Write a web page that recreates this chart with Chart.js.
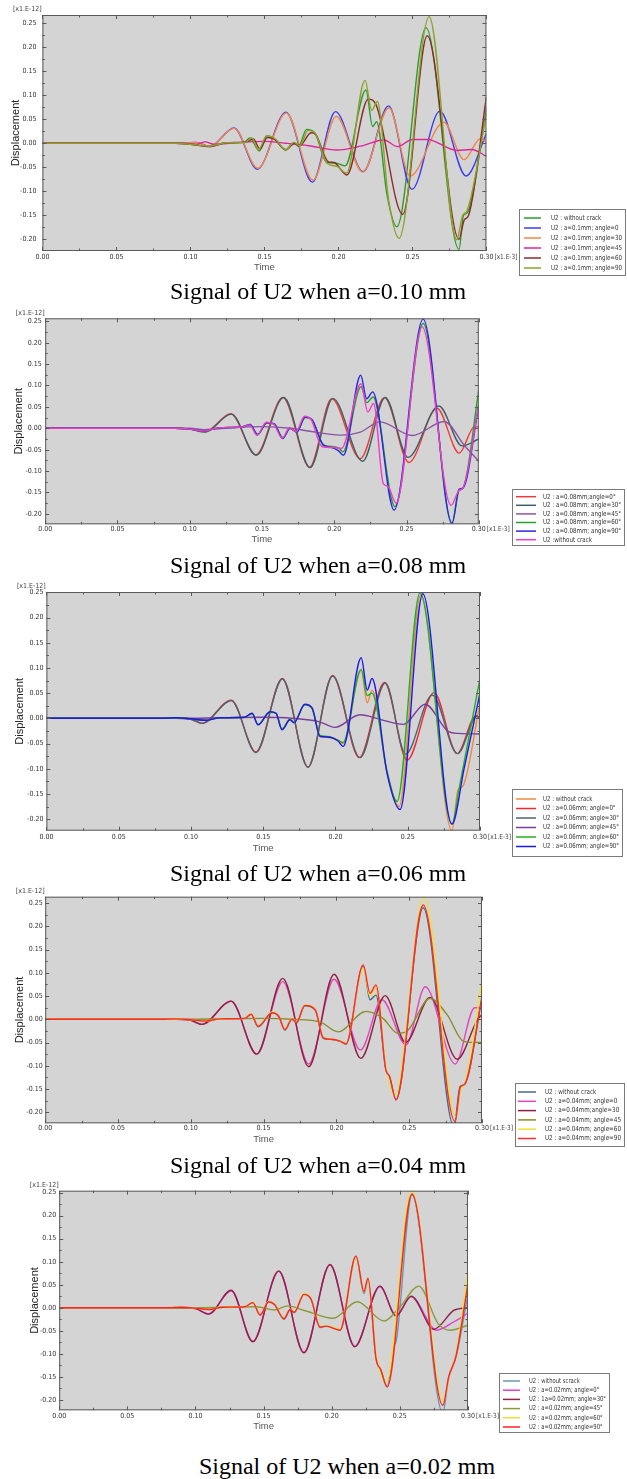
<!DOCTYPE html>
<html>
<head>
<meta charset="utf-8">
<script src="https://cdn.jsdelivr.net/npm/chart.js@4.4.0/dist/chart.umd.min.js"></script>
<style>
  html, body { margin: 0; padding: 0; background: #fff; }
  body { position: relative; width: 627px; height: 1479px; overflow: hidden; }
  canvas { position: absolute; left: 0; }
  .cap { position: absolute; font: 24px 'Liberation Serif', 'Times New Roman', serif; line-height: 24px;
         white-space: nowrap; color: #000; transform: translateX(-50%); }
</style>
</head>
<body>
<canvas id="c1"></canvas>
<canvas id="c2"></canvas>
<canvas id="c3"></canvas>
<canvas id="c4"></canvas>
<canvas id="c5"></canvas>
<script>
// axis ticks
const timeTicks = [0, 0.05, 0.10, 0.15, 0.20, 0.25, 0.30];
const dispTicks = [-0.20, -0.15, -0.10, -0.05, 0, 0.05, 0.10, 0.15, 0.20, 0.25];
const minorTimeTicks = [0, 0.025, 0.05, 0.075, 0.10, 0.125, 0.15, 0.175, 0.20, 0.225, 0.25, 0.275, 0.30];
const minorDispTicks = [-0.20, -0.175, -0.15, -0.125, -0.10, -0.075, -0.05, -0.025, 0, 0.025, 0.05, 0.075, 0.10, 0.125, 0.15, 0.175, 0.20, 0.225, 0.25];

const captions = ['Signal of U2 when a=0.10 mm', 'Signal of U2 when a=0.08 mm', 'Signal of U2 when a=0.06 mm',
                  'Signal of U2 when a=0.04 mm', 'Signal of U2 when a=0.02 mm'];

// ---- a = 0.10 mm : [time x1e-3, U2 x1e-12]
const p1NoCrack = [[0,0],[0.09,0],[0.1,-0.002],[0.113,-0.006],[0.124,0.001],[0.136,0.002],[0.1403,0.011],[0.1465,-0.016],[0.152,0.016],[0.156,0.011],[0.1645,-0.013],[0.1696,0.001],[0.173,-0.006],[0.1786,0.029],[0.1842,0.021],[0.1921,-0.04],[0.198,-0.041],[0.2045,-0.047],[0.2186,0.111],[0.2231,0.035],[0.2258,0.045],[0.233,-0.11],[0.2395,-0.174],[0.2592,0.241],[0.2815,-0.221],[0.2845,-0.15],[0.287,-0.145],[0.30,0.07]];
const p1Ang0 = [[0,0],[0.095,0],[0.104,0.002],[0.113,-0.007],[0.1295,0.032],[0.1452,-0.054],[0.1646,0.065],[0.1824,-0.081],[0.198,0.066],[0.2168,-0.059],[0.2339,0.078],[0.2497,-0.096],[0.2686,0.067],[0.2862,-0.068],[0.30,0.02]];
const p1Ang30 = [[0,0],[0.095,0],[0.104,0.002],[0.113,-0.007],[0.1295,0.031],[0.1455,-0.052],[0.1648,0.063],[0.1828,-0.077],[0.1985,0.056],[0.2165,-0.06],[0.2342,0.074],[0.2484,-0.068],[0.2713,0.044],[0.2849,-0.034],[0.296,0.01],[0.30,0.002]];
const p1Ang45 = [[0,0],[0.095,0],[0.104,-0.002],[0.11,0.003],[0.116,-0.002],[0.13,0.001],[0.15,0.004],[0.165,0],[0.18,-0.005],[0.199,-0.014],[0.215,-0.006],[0.2307,0.007],[0.24,-0.007],[0.25,0.008],[0.26,0.008],[0.28,-0.015],[0.29,-0.013],[0.30,-0.027]];
const p1Ang60 = [[0,0],[0.09,0],[0.1,-0.002],[0.113,-0.007],[0.124,0.001],[0.138,0.003],[0.1425,0.009],[0.147,-0.012],[0.152,0.012],[0.157,0.008],[0.1645,-0.014],[0.1705,0],[0.174,-0.005],[0.1815,0.022],[0.1845,0.019],[0.193,-0.038],[0.197,-0.04],[0.2057,-0.066],[0.2202,0.092],[0.2255,0.08],[0.2435,-0.148],[0.26,0.224],[0.2815,-0.2],[0.285,-0.16],[0.288,-0.15],[0.30,0.097]];
const p1Ang90 = [[0,0],[0.09,0],[0.1,-0.002],[0.113,-0.006],[0.124,0.001],[0.137,0.002],[0.1415,0.011],[0.146,-0.014],[0.1515,0.016],[0.157,0.01],[0.1645,-0.014],[0.17,0.002],[0.174,-0.005],[0.1795,0.027],[0.1845,0.02],[0.1925,-0.042],[0.199,-0.048],[0.2055,-0.062],[0.218,0.131],[0.2225,0.069],[0.2263,0.087],[0.234,-0.12],[0.241,-0.198],[0.2613,0.264],[0.28,-0.201],[0.284,-0.15],[0.287,-0.14],[0.30,0.06]];
const p1Labels = ['U2 : without crack', 'U2 : a=0.1mm; angle=0', 'U2 : a=0.1mm; angle=30', 'U2 : a=0.1mm; angle=45', 'U2 : a=0.1mm; angle=60', 'U2 : a=0.1mm; angle=90'];

// ---- a = 0.08 mm
const p2Ang0 = [[0,0],[0.09,0],[0.1,-0.002],[0.1105,-0.008],[0.1285,0.034],[0.1457,-0.062],[0.1645,0.072],[0.183,-0.091],[0.1982,0.069],[0.218,-0.071],[0.2348,0.072],[0.2516,-0.08],[0.271,0.047],[0.2865,-0.058],[0.297,0.004],[0.30,0.003]];
const p2Ang30 = [[0,0],[0.09,0],[0.1,-0.002],[0.1105,-0.009],[0.1288,0.033],[0.146,-0.063],[0.165,0.072],[0.1833,-0.092],[0.199,0.07],[0.2197,-0.077],[0.2352,0.072],[0.251,-0.068],[0.2724,0.052],[0.2884,-0.041],[0.30,-0.025]];
const p2Ang45 = [[0,0],[0.1,0],[0.11,-0.003],[0.13,0.002],[0.15,0.004],[0.17,0],[0.183,-0.007],[0.204,-0.016],[0.218,-0.009],[0.2317,0.015],[0.254,-0.017],[0.276,0.016],[0.29,-0.04],[0.30,-0.077]];
const p2Ang60 = [[0,0],[0.09,0],[0.1,-0.002],[0.11,-0.006],[0.12,0.001],[0.136,0.003],[0.1418,0.008],[0.147,-0.014],[0.1535,0.012],[0.1585,0.01],[0.1645,-0.022],[0.1695,0],[0.174,-0.008],[0.18,0.025],[0.1845,0.02],[0.1925,-0.038],[0.197,-0.042],[0.2035,-0.047],[0.206,-0.055],[0.2185,0.097],[0.2225,0.06],[0.2268,0.073],[0.242,-0.183],[0.2615,0.245],[0.2815,-0.222],[0.2864,-0.145],[0.289,-0.14],[0.30,0.089]];
const p2Ang90 = [[0,0],[0.09,0],[0.1,-0.002],[0.11,-0.006],[0.12,0.001],[0.136,0.003],[0.1418,0.009],[0.1469,-0.015],[0.1532,0.013],[0.1583,0.011],[0.1643,-0.024],[0.1693,0],[0.174,-0.009],[0.1798,0.026],[0.1844,0.021],[0.1925,-0.04],[0.1971,-0.044],[0.2028,-0.052],[0.2063,-0.063],[0.2183,0.124],[0.2224,0.069],[0.2266,0.085],[0.2414,-0.191],[0.2615,0.255],[0.2815,-0.222],[0.2864,-0.142],[0.289,-0.14],[0.30,0.054]];
const p2NoCrack = [[0,0],[0.09,0],[0.1,-0.002],[0.11,-0.006],[0.12,0.001],[0.136,0.003],[0.1415,0.008],[0.1465,-0.016],[0.153,0.014],[0.158,0.01],[0.164,-0.023],[0.169,0.001],[0.1735,-0.008],[0.1795,0.028],[0.184,0.02],[0.1915,-0.043],[0.2,-0.045],[0.205,-0.047],[0.2185,0.104],[0.2232,0.038],[0.2272,0.058],[0.234,-0.13],[0.237,-0.135],[0.2428,-0.175],[0.2608,0.237],[0.2808,-0.18],[0.2864,-0.145],[0.289,-0.14],[0.30,0.055]];
const p2Labels = ['U2 : a=0.08mm;angle=0°', 'U2 : a=0.08mm; angle=30°', 'U2 : a=0.08mm; angle=45°', 'U2 : a=0.08mm; angle=60°', 'U2 : a=0.08mm; angle=90°', 'U2 :without crack'];

// ---- a = 0.06 mm
const p3NoCrack = [[0,0],[0.08,0],[0.09,0.001],[0.1,-0.001],[0.11,-0.004],[0.12,0.001],[0.137,0.002],[0.1423,0.01],[0.1464,-0.013],[0.1547,0.013],[0.1589,0.01],[0.163,-0.022],[0.1685,-0.003],[0.1713,-0.008],[0.1788,0.027],[0.1838,0.02],[0.1893,-0.036],[0.1948,-0.038],[0.2018,-0.043],[0.2053,-0.05],[0.2178,0.095],[0.222,0.031],[0.2253,0.056],[0.2357,-0.109],[0.244,-0.175],[0.259,0.245],[0.2806,-0.223],[0.2848,-0.142],[0.288,-0.135],[0.30,0.03]];
const p3Ang0 = [[0,0],[0.09,0],[0.1,-0.002],[0.1077,-0.01],[0.1279,0.036],[0.145,-0.067],[0.1633,0.079],[0.181,-0.097],[0.198,0.085],[0.2165,-0.078],[0.234,0.071],[0.2496,-0.083],[0.2682,0.051],[0.2842,-0.07],[0.297,0.004],[0.30,0]];
const p3Ang30 = [[0,0],[0.09,0],[0.1,-0.002],[0.1077,-0.01],[0.1279,0.035],[0.145,-0.068],[0.1633,0.078],[0.181,-0.097],[0.198,0.084],[0.217,-0.078],[0.2345,0.07],[0.2485,-0.071],[0.267,0.046],[0.2845,-0.07],[0.298,0.005],[0.30,0]];
const p3Ang45 = [[0,0],[0.1,0],[0.12,0.001],[0.15,0.002],[0.17,0],[0.189,-0.007],[0.1996,-0.018],[0.217,0.007],[0.232,-0.003],[0.247,-0.012],[0.262,0.028],[0.278,-0.026],[0.285,-0.03],[0.30,-0.031]];
const p3Ang60 = [[0,0],[0.08,0],[0.09,0.001],[0.1,-0.001],[0.11,-0.004],[0.12,0.001],[0.137,0.002],[0.1423,0.009],[0.1464,-0.012],[0.1547,0.012],[0.1589,0.01],[0.163,-0.021],[0.1685,-0.002],[0.1713,-0.008],[0.1788,0.027],[0.1838,0.021],[0.1893,-0.034],[0.1948,-0.036],[0.2018,-0.044],[0.2053,-0.048],[0.2178,0.097],[0.222,0.045],[0.2253,0.05],[0.2357,-0.105],[0.2426,-0.165],[0.2585,0.249],[0.2806,-0.21],[0.2855,-0.14],[0.30,0.079]];
const p3Ang90 = [[0,0],[0.08,0],[0.09,0.001],[0.1,-0.001],[0.11,-0.004],[0.12,0.001],[0.137,0.002],[0.1423,0.01],[0.1464,-0.013],[0.1547,0.013],[0.1589,0.01],[0.163,-0.023],[0.1685,-0.003],[0.1713,-0.009],[0.1788,0.028],[0.1838,0.02],[0.1893,-0.036],[0.1948,-0.037],[0.2018,-0.045],[0.2053,-0.056],[0.2178,0.12],[0.222,0.056],[0.2253,0.079],[0.2357,-0.109],[0.2447,-0.181],[0.2604,0.247],[0.2806,-0.21],[0.289,-0.1],[0.30,0.05]];
const p3Labels = ['U2 : without crack', 'U2 : a=0.06mm; angle=0°', 'U2 : a=0.06mm; angle=30°', 'U2 : a=0.06mm; angle=45°', 'U2 : a=0.06mm; angle=60°', 'U2 : a=0.06mm; angle=90°'];

// ---- a = 0.04 mm
const p4NoCrack = [[0,0],[0.08,0],[0.09,0.001],[0.1,-0.001],[0.11,-0.004],[0.12,0.001],[0.137,0.002],[0.1415,0.011],[0.1462,-0.016],[0.1558,0.014],[0.1605,0.006],[0.1646,-0.023],[0.1695,0],[0.1725,-0.008],[0.1783,0.029],[0.1855,0.02],[0.191,-0.041],[0.196,-0.043],[0.2025,-0.047],[0.2066,-0.053],[0.2184,0.115],[0.2231,0.042],[0.2272,0.052],[0.234,-0.109],[0.2365,-0.123],[0.2409,-0.173],[0.2596,0.24],[0.2808,-0.231],[0.2849,-0.145],[0.288,-0.14],[0.30,0.045]];
const p4Ang0 = [[0,0],[0.09,0],[0.1,-0.002],[0.1077,-0.011],[0.1277,0.039],[0.1453,-0.075],[0.1632,0.081],[0.181,-0.096],[0.1984,0.086],[0.2165,-0.066],[0.2313,0.042],[0.2478,-0.055],[0.261,0.07],[0.2816,-0.096],[0.295,0.025],[0.30,0.025]];
const p4Ang30 = [[0,0],[0.09,0],[0.1,-0.002],[0.1077,-0.011],[0.1277,0.039],[0.1453,-0.075],[0.1632,0.088],[0.181,-0.102],[0.1984,0.097],[0.2168,-0.084],[0.2335,0.051],[0.2475,-0.05],[0.2643,0.047],[0.283,-0.086],[0.297,0],[0.30,0.01]];
const p4Ang45 = [[0,0],[0.1,0],[0.12,0.001],[0.15,0.002],[0.17,0],[0.189,-0.006],[0.2011,-0.027],[0.2203,0.017],[0.232,0.002],[0.2423,-0.03],[0.249,-0.024],[0.2643,0.045],[0.276,0.01],[0.2876,-0.048],[0.30,-0.05]];
const p4Ang60 = [[0,0],[0.08,0],[0.09,0.001],[0.1,-0.001],[0.11,-0.004],[0.12,0.001],[0.137,0.002],[0.1415,0.012],[0.1462,-0.014],[0.1558,0.016],[0.1605,0.007],[0.1646,-0.021],[0.1695,0.002],[0.1725,-0.006],[0.1783,0.031],[0.1855,0.021],[0.191,-0.038],[0.196,-0.042],[0.2025,-0.046],[0.2066,-0.052],[0.2184,0.11],[0.2231,0.05],[0.2272,0.07],[0.234,-0.1],[0.2402,-0.165],[0.2602,0.264],[0.282,-0.21],[0.2855,-0.15],[0.288,-0.14],[0.30,0.085]];
const p4Ang90 = [[0,0],[0.08,0],[0.09,0.001],[0.1,-0.001],[0.11,-0.004],[0.12,0.001],[0.137,0.002],[0.1415,0.011],[0.1462,-0.015],[0.1558,0.014],[0.1605,0.006],[0.1646,-0.022],[0.1695,0.001],[0.1725,-0.007],[0.1783,0.03],[0.1855,0.02],[0.191,-0.04],[0.196,-0.043],[0.2025,-0.047],[0.2066,-0.053],[0.2184,0.117],[0.2231,0.056],[0.2272,0.074],[0.234,-0.109],[0.2365,-0.123],[0.2409,-0.173],[0.2596,0.246],[0.2815,-0.22],[0.2852,-0.145],[0.288,-0.14],[0.30,0.049]];
const p4Labels = ['U2 : without crack', 'U2 : a=0.04mm; angle=0', 'U2 : a=0.04mm;angle=30', 'U2 : a=0.04mm; angle=45', 'U2 : a=0.04mm; angle=60', 'U2 : a=0.04mm; angle=90'];

// ---- a = 0.02 mm
const p5NoCrack = [[0,0],[0.08,0],[0.09,0.001],[0.1,-0.001],[0.11,-0.004],[0.12,0.001],[0.136,0.002],[0.1421,0.011],[0.1474,-0.016],[0.1538,0.013],[0.158,0.007],[0.165,-0.025],[0.1695,-0.005],[0.1725,-0.011],[0.1796,0.029],[0.1848,0.018],[0.1914,-0.043],[0.196,-0.04],[0.2061,-0.049],[0.2178,0.112],[0.2237,0.031],[0.2266,0.062],[0.2325,-0.11],[0.236,-0.135],[0.2407,-0.172],[0.2455,-0.085],[0.2475,-0.07],[0.2589,0.245],[0.2815,-0.228],[0.2859,-0.15],[0.2912,-0.107],[0.30,0.03]];
const p5Ang0 = [[0,0],[0.09,0],[0.1,-0.002],[0.1098,-0.013],[0.1262,0.037],[0.1421,-0.073],[0.1611,0.079],[0.1796,-0.097],[0.1987,0.093],[0.2169,-0.084],[0.2354,0.046],[0.2472,-0.017],[0.2583,0.024],[0.277,-0.049],[0.29,-0.03],[0.30,-0.012]];
const p5Ang30 = [[0,0],[0.09,0],[0.1,-0.002],[0.1098,-0.014],[0.1262,0.038],[0.1421,-0.074],[0.1611,0.08],[0.1796,-0.098],[0.1987,0.094],[0.2169,-0.085],[0.2354,0.047],[0.2472,-0.018],[0.2583,0.025],[0.275,-0.047],[0.29,-0.005],[0.30,0]];
const p5Ang45 = [[0,0],[0.1,0],[0.12,0.001],[0.145,0.002],[0.158,-0.005],[0.1677,0.004],[0.18,-0.006],[0.2011,-0.023],[0.2187,0.013],[0.2384,-0.029],[0.2501,0.002],[0.2639,0.047],[0.278,-0.034],[0.2868,-0.049],[0.30,-0.038]];
const p5Ang60 = [[0,0],[0.08,0],[0.09,0.001],[0.1,-0.001],[0.11,-0.004],[0.12,0.001],[0.136,0.002],[0.1421,0.012],[0.1474,-0.015],[0.1538,0.014],[0.158,0.008],[0.165,-0.023],[0.1695,-0.003],[0.1725,-0.009],[0.1796,0.031],[0.1848,0.02],[0.1914,-0.04],[0.196,-0.039],[0.2061,-0.047],[0.2178,0.108],[0.2237,0.035],[0.2266,0.06],[0.2325,-0.1],[0.24,-0.161],[0.2585,0.256],[0.282,-0.205],[0.2865,-0.145],[0.2912,-0.1],[0.30,0.078]];
const p5Ang90 = [[0,0],[0.08,0],[0.09,0.001],[0.1,-0.001],[0.11,-0.004],[0.12,0.001],[0.136,0.002],[0.1421,0.011],[0.1474,-0.016],[0.1538,0.013],[0.158,0.007],[0.165,-0.024],[0.1695,-0.004],[0.1725,-0.01],[0.1796,0.029],[0.1848,0.019],[0.1914,-0.042],[0.196,-0.04],[0.2061,-0.049],[0.2178,0.112],[0.2237,0.035],[0.2266,0.064],[0.2325,-0.11],[0.236,-0.135],[0.2407,-0.172],[0.2589,0.247],[0.2815,-0.212],[0.2859,-0.15],[0.2912,-0.105],[0.30,0.053]];
const p5Labels = ['U2 : without scrack', 'U2 : a=0.02mm; angle=0°', 'U2 : 1a=0.02mm; angle=30°', 'U2 : a=0.02mm; angle=45°', 'U2 : a=0.02mm; angle=60°', 'U2 : a=0.02mm; angle=90°'];

// layout of each panel in page pixels
const panels = [
  { id: 'c1', series: [p1NoCrack, p1Ang0, p1Ang30, p1Ang45, p1Ang60, p1Ang90], labels: p1Labels,
    colors: ['#2f9a2f', '#3c3cf0', '#f0864a', '#e0259b', '#8a2a2a', '#8fa02a'],
    L: 42.4, R: 486.4, T: 15, B: 251, yMin: -0.2244, yMax: 0.2673, yLeft: 9.4, yPad: 6, xPad: 1.5, xH: 22.4,
    cap: { x: 318, top: 279 }, leg: { x: 519, y: 209, w: 107, h: 67, r0: 9, dr: 10, l0: 5, l1: 22, tx: 32 } },
  { id: 'c2', series: [p2Ang0, p2Ang30, p2Ang45, p2Ang60, p2Ang90, p2NoCrack], labels: p2Labels,
    colors: ['#f03a3a', '#3f5f68', '#8a56a0', '#2aa02a', '#2828e0', '#f03cc8'],
    L: 45.2, R: 478.8, T: 318.3, B: 524.3, yMin: -0.2243, yMax: 0.257, yLeft: 12.2, yPad: 3.5, xPad: 1, xH: 20.4,
    cap: { x: 318, top: 553 }, leg: { x: 512, y: 489, w: 113, h: 57, r0: 7.7, dr: 8.6, l0: 4, l1: 24, tx: 31 } },
  { id: 'c3', series: [p3NoCrack, p3Ang0, p3Ang30, p3Ang45, p3Ang60, p3Ang90], labels: p3Labels,
    colors: ['#f0883a', '#f02a2a', '#4f6270', '#7a3f9a', '#22b022', '#1a1aee'],
    L: 46.4, R: 480, T: 592, B: 830.7, yMin: -0.223, yMax: 0.2506, yLeft: 13.4, yPad: 3, xPad: 2.5, xH: 23,
    cap: { x: 318, top: 861 }, leg: { x: 512, y: 789, w: 111, h: 68, r0: 10, dr: 9.5, l0: 4, l1: 24, tx: 31 } },
  { id: 'c4', series: [p4NoCrack, p4Ang0, p4Ang30, p4Ang45, p4Ang60, p4Ang90], labels: p4Labels,
    colors: ['#4a6888', '#e048c0', '#8e2040', '#8c8c2c', '#f0e030', '#ff2c2c'],
    L: 45.2, R: 482, T: 896.7, B: 1123.3, yMin: -0.2237, yMax: 0.2637, yLeft: 13.4, yPad: 2.5, xPad: 1, xH: 21.4,
    cap: { x: 318, top: 1153 }, leg: { x: 515, y: 1083, w: 110, h: 64, r0: 9, dr: 9.3, l0: 3, l1: 21, tx: 30 } },
  { id: 'c5', series: [p5NoCrack, p5Ang0, p5Ang30, p5Ang45, p5Ang60, p5Ang90], labels: p5Labels,
    colors: ['#6898b0', '#e040d0', '#8e2448', '#8a9a3c', '#f0e030', '#ff2424'],
    L: 59.2, R: 468, T: 1190.7, B: 1410.3, yMin: -0.223, yMax: 0.2543, yLeft: 28.2, yPad: 3, xPad: 1.5, xH: 22.1,
    cap: { x: 347, top: 1454 }, leg: { x: 499, y: 1373, w: 111, h: 60, r0: 8, dr: 9.2, l0: 4, l1: 21, tx: 30 } }
];

const smallFont = "'Liberation Sans Narrow', 'DejaVu Sans Condensed', 'Liberation Sans', sans-serif";

function makeFrame(p, top) {
  return {
    id: 'frame',
    beforeDraw(chart) {
      const { ctx, chartArea: a } = chart;
      ctx.save();
      ctx.fillStyle = '#d4d4d4';
      ctx.fillRect(a.left, a.top, a.right - a.left, a.bottom - a.top);
      ctx.restore();
    },
    afterDraw(chart) {
      const { ctx, chartArea: a } = chart;
      const x = chart.scales.x, y = chart.scales.y;
      ctx.save();
      ctx.strokeStyle = '#5a5a5a';
      ctx.lineWidth = 1;
      ctx.strokeRect(a.left + 0.5, a.top + 0.5, a.right - a.left - 1, a.bottom - a.top - 1);
      // inner tick marks on all four sides
      ctx.beginPath();
      minorTimeTicks.forEach((v, i) => {
        const px = Math.round(x.getPixelForValue(v)) + 0.5;
        const len = i % 2 === 0 ? 4 : 2.5;
        ctx.moveTo(px, a.bottom); ctx.lineTo(px, a.bottom - len);
        ctx.moveTo(px, a.top); ctx.lineTo(px, a.top + len);
      });
      minorDispTicks.forEach((v, i) => {
        const py = Math.round(y.getPixelForValue(v)) + 0.5;
        const len = i % 2 === 0 ? 4 : 2.5;
        ctx.moveTo(a.left, py); ctx.lineTo(a.left + len, py);
        ctx.moveTo(a.right, py); ctx.lineTo(a.right - len, py);
      });
      ctx.stroke();
      // exponent labels
      ctx.fillStyle = '#444';
      ctx.font = '7px ' + smallFont;
      ctx.textBaseline = 'middle';
      ctx.textAlign = 'left';
      ctx.fillText('[x1.E-12]', a.left - 29.5, a.top - 5.5);
      ctx.fillText('[x1.E-3]', a.right + 8, a.bottom + p.xPad + 4.2, 23);
      // legend box
      const g = p.leg, gy = g.y - top;
      ctx.fillStyle = '#ffffff';
      ctx.fillRect(g.x, gy, g.w, g.h);
      ctx.strokeStyle = '#7a7a7a';
      ctx.strokeRect(g.x + 0.5, gy + 0.5, g.w - 1, g.h - 1);
      const room = g.w - g.tx - 4;
      const widest = Math.max(...chart.data.datasets.map(ds => ctx.measureText(ds.label).width));
      const squeeze = Math.min(1, room / widest);
      chart.data.datasets.forEach((ds, i) => {
        const ry = gy + g.r0 + g.dr * i;
        ctx.strokeStyle = ds.borderColor;
        ctx.lineWidth = 1.5;
        ctx.beginPath();
        ctx.moveTo(g.x + g.l0, ry); ctx.lineTo(g.x + g.l1, ry);
        ctx.stroke();
        ctx.fillStyle = '#333';
        ctx.fillText(ds.label, g.x + g.tx, ry, ctx.measureText(ds.label).width * squeeze);
      });
      ctx.restore();
    }
  };
}

function buildPanel(p, n) {
  const canvas = document.getElementById(p.id);
  const top = Math.floor(p.T - 15);
  const bottom = Math.ceil(Math.max(p.leg.y + p.leg.h, p.B + p.xH) + 3);
  canvas.width = 627;
  canvas.height = bottom - top;
  canvas.style.top = top + 'px';
  const padTop = p.T - top;
  const padBottom = canvas.height - padTop - (p.B - p.T) - p.xH;

  const cap = document.createElement('div');
  cap.className = 'cap';
  cap.style.left = p.cap.x + 'px';
  cap.style.top = p.cap.top + 'px';
  cap.textContent = captions[n];
  document.body.appendChild(cap);

  new Chart(canvas, {
    type: 'line',
    data: {
      datasets: p.series.map((d, i) => ({
        label: p.labels[i],
        data: d,
        order: -i,          // later series drawn on top
        borderColor: p.colors[i],
        backgroundColor: p.colors[i],
        borderWidth: 1.4,
        pointRadius: 0,
        fill: false,
        cubicInterpolationMode: 'monotone'
      }))
    },
    options: {
      responsive: false,
      animation: false,
      devicePixelRatio: 1,
      layout: { padding: { top: padTop, left: p.yLeft, right: 627 - p.R, bottom: padBottom } },
      plugins: { legend: { display: false }, tooltip: { enabled: false } },
      scales: {
        x: {
          type: 'linear', min: 0, max: 0.30,
          grid: { display: false, drawTicks: false }, border: { display: false },
          afterBuildTicks: s => { s.ticks = timeTicks.map(v => ({ value: v })); },
          afterFit: s => { s.height = p.xH; },
          ticks: { autoSkip: false, maxRotation: 0, padding: p.xPad, color: '#333',
                   font: { family: smallFont, size: 7 }, callback: v => v.toFixed(2) },
          title: { display: true, text: 'Time', color: '#555', padding: 0,
                   font: { family: "'Liberation Sans', Arial, sans-serif", size: 9.5 } }
        },
        y: {
          type: 'linear', min: p.yMin, max: p.yMax,
          grid: { display: false, drawTicks: false }, border: { display: false },
          afterBuildTicks: s => { s.ticks = dispTicks.map(v => ({ value: v })); },
          afterFit: s => { s.width = p.L - p.yLeft; },
          ticks: { autoSkip: false, padding: p.yPad, color: '#333',
                   font: { family: smallFont, size: 7 }, callback: v => v.toFixed(2) },
          title: { display: true, text: 'Displacement', color: '#222', padding: 0,
                   font: { family: "'Liberation Sans', Arial, sans-serif", size: 11 } }
        }
      }
    },
    plugins: [makeFrame(p, top)]
  });
}

panels.forEach(buildPanel);
</script>
</body>
</html>
